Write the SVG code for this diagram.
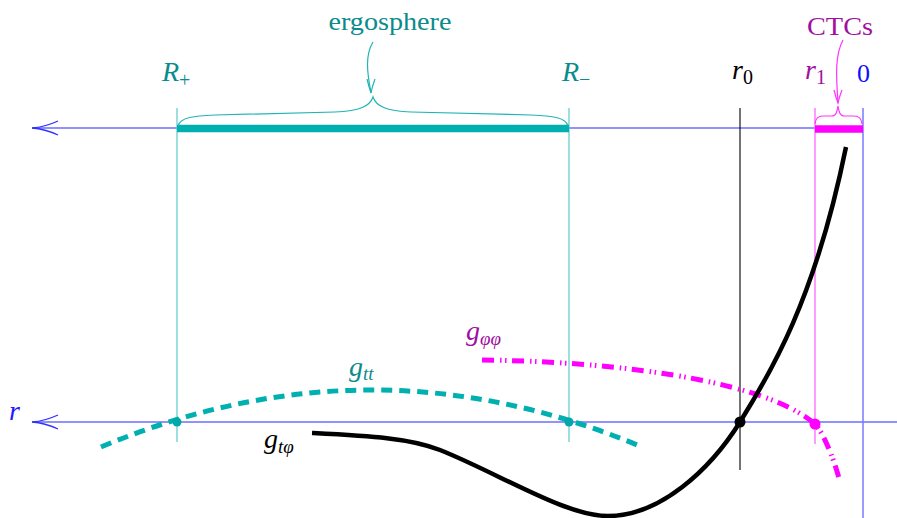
<svg xmlns="http://www.w3.org/2000/svg" width="897" height="518" viewBox="0 0 897 518">
<style>
text{font-family:"Liberation Serif","DejaVu Serif",serif;font-size:26px}
.it{font-style:italic;font-size:28px}
.sub{font-size:20px;font-style:normal}
.subit{font-size:19px;font-style:italic}
.teal{fill:#0a8c8c}
.purp{fill:#a010a0}
.axis{stroke:#6e6eff;stroke-width:1.3;fill:none}
.ahead{stroke:#3030ff;stroke-width:1.3;fill:none}
.vcyan{stroke:#5cc8c8;stroke-width:1.2}
.vmag{stroke:#ff66ff;stroke-width:1.3}
.brace-c{stroke:#20b4b4;stroke-width:1.2;fill:none}
.brace-m{stroke:#ff33ff;stroke-width:1.2;fill:none}
</style>
<g id="axes">
<line class="axis" x1="32" y1="128" x2="863" y2="128"/>
<path class="ahead" d="M58,121 Q45,127 32,128 Q45,129 58,135"/>
<line class="axis" x1="32" y1="422" x2="897" y2="422"/>
<path class="ahead" d="M58,415 Q45,421 32,422 Q45,423 58,429"/>
</g>
<g id="verticals">
<line class="vcyan" x1="177" y1="108" x2="177" y2="442"/>
<line class="vcyan" x1="569" y1="108" x2="569" y2="442"/>
<line stroke="#000" stroke-width="1.1" x1="740" y1="108" x2="740" y2="470"/>
<line class="vmag" x1="815" y1="108" x2="815" y2="444"/>
<line stroke="#7a7aff" stroke-width="1.5" x1="863" y1="108" x2="863" y2="518"/>
</g>
<g id="bars">
<line stroke="#00b0b0" stroke-width="7.5" x1="177" y1="128.5" x2="569" y2="128.5"/>
<line stroke="#ff00ff" stroke-width="7.5" x1="815" y1="129" x2="863" y2="129"/>
</g>
<g id="ergosphere">
<path class="brace-c" d="M178,126 C180,117 195,116 215,115 L335,112 C360,111 370,106 373,97 C376,106 386,111 411,112 L531,115 C551,116 566,117 568,126"/>
<path class="brace-c" d="M373,42 C365,55 367,72 371,93"/>
<path class="brace-c" d="M367,79 Q369,87 371,93 Q372,87 375,79"/>
<text class="teal" x="390" y="30" text-anchor="middle" textLength="123" lengthAdjust="spacingAndGlyphs">ergosphere</text>
</g>
<g id="ctcs">
<path class="brace-m" d="M815,124 C816,117 819,116 824,116 L832,116 C836,116 837,112 838,106 C839,112 840,116 844,116 L853,116 C858,116 861,117 862,124"/>
<path class="brace-m" d="M843,40 C835,55 836,75 838,103"/>
<path class="brace-m" d="M834,90 Q836,98 838,103 Q839,98 842,90"/>
<text class="purp" x="840" y="35" text-anchor="middle" textLength="66" lengthAdjust="spacingAndGlyphs">CTCs</text>
</g>
<g id="labels">
<text class="teal it" x="162" y="81">R<tspan class="sub" dy="6">+</tspan></text>
<text class="teal it" x="562" y="81">R<tspan class="sub" dy="5">−</tspan></text>
<text class="it" x="732" y="79">r<tspan class="sub" dy="5">0</tspan></text>
<text class="purp it" x="805" y="79">r<tspan class="sub" dy="5">1</tspan></text>
<text x="857" y="82" fill="#1010ff">0</text>
<text class="it" x="9" y="420" fill="#1a1aff">r</text>
</g>
<g id="gtt">
<path d="M101,447 Q372,333 642,447" fill="none" stroke="#00b0b0" stroke-width="5" stroke-dasharray="11 7"/>
<circle cx="177" cy="422" r="4.5" fill="#00a8a8"/>
<circle cx="569" cy="422" r="4.5" fill="#00a8a8"/>
<text class="teal it" x="349" y="376">g<tspan class="subit" dy="4">tt</tspan></text>
</g>
<g id="gphiphi">
<path d="M482,360 C640,362 770,385 815,424 C822,431 833,455 840,482" fill="none" stroke="#ff00ff" stroke-width="5" stroke-dasharray="12 6 1.5 3.5 1.5 5.5"/>
<circle cx="815" cy="424" r="5.5" fill="#ff00ff"/>
<text class="purp it" x="466" y="340">g<tspan class="subit" dy="5">φφ</tspan></text>
</g>
<g id="gtphi">
<path d="M312,433 C370,436 410,438 440,450 C500,474 565,516 608,516 C660,516 710,470 740,422 C770,374 815,300 846,147" fill="none" stroke="#000" stroke-width="4.5"/>
<circle cx="740" cy="422" r="5.5" fill="#000"/>
<text class="it" x="264" y="448">g<tspan class="subit" dy="5">tφ</tspan></text>
</g>
</svg>
